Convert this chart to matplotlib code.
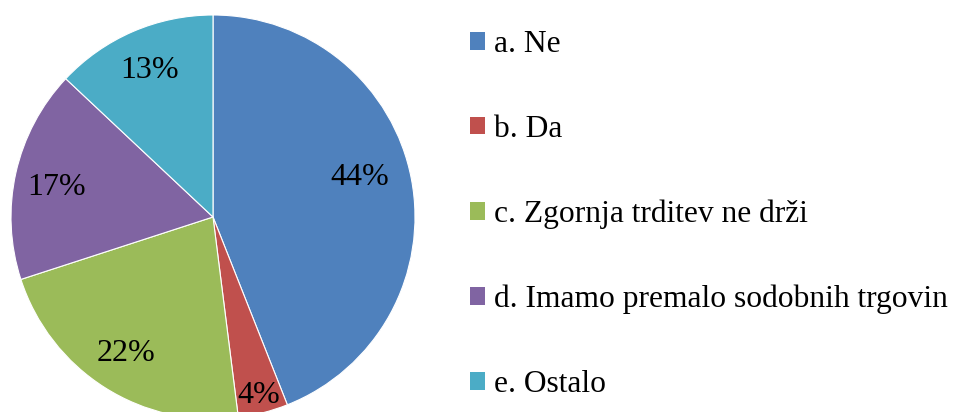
import matplotlib
matplotlib.use("Agg")
import matplotlib.pyplot as plt
import numpy as np
from matplotlib.patches import Patch

categories = ["a. Ne", "b. Da", "c. Zgornja trditev ne drži",
              "d. Imamo premalo sodobnih trgovin", "e. Ostalo"]
values = [44, 4, 22, 17, 13]
colors = ["#4F81BD", "#C0504D", "#9BBB59", "#8064A2", "#4BACC6"]
label_dist = [0.755, 0.91, 0.80, 0.79, 0.79]
label_angle_shift = [4.4, 0.0, 0.0, 2.0, 0.0]

plt.rcParams["font.family"] = ["Liberation Serif", "DejaVu Serif"]

W, H = 959, 412
fig = plt.figure(figsize=(W / 100, H / 100), dpi=100)
ax = fig.add_axes([0, 0, 1, 1])
cx, cy, r = 213, H - 217, 202
wedges, _ = ax.pie(values, colors=colors, startangle=90, counterclock=False,
                   center=(cx, cy), radius=r,
                   wedgeprops=dict(edgecolor="white", linewidth=0.8))
ax.set_xlim(0, W)
ax.set_ylim(0, H)
ax.set_aspect("equal")
ax.axis("off")

fs = 23
for w, v, d, s in zip(wedges, values, label_dist, label_angle_shift):
    ang = np.deg2rad((w.theta1 + w.theta2) / 2 + s)
    ax.text(cx + d * r * np.cos(ang), cy + d * r * np.sin(ang), f"{v}%",
            ha="center", va="center", fontsize=fs, color="black")

lfs = 22.7
handles = [Patch(facecolor=c, edgecolor="none") for c in colors]
fig.legend(handles, categories, loc="upper left",
           bbox_to_anchor=(470 / W, 1 - 30 / H), frameon=False,
           fontsize=lfs, handlelength=0.48, handleheight=0.48,
           handletextpad=0.28, labelspacing=1.77, borderpad=0,
           borderaxespad=0)

fig.savefig("out.png", dpi=100)
